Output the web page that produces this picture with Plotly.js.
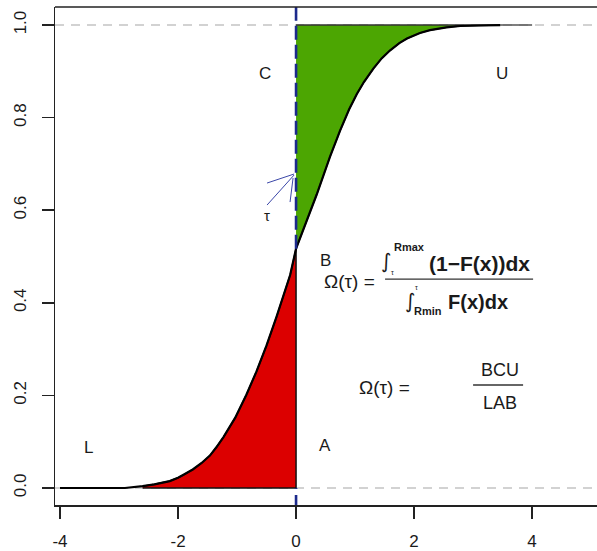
<!DOCTYPE html>
<html>
<head>
<meta charset="utf-8">
<script src="https://cdn.plot.ly/plotly-3.0.1.min.js"></script>
<style>html,body{margin:0;padding:0;background:#fff;}#chart{width:597px;height:551px;}</style>
</head>
<body>
<div id="chart"></div>
<script>
// ---- data ----
// empirical cumulative distribution curve F(x)
var cdfX = [-4.0, -2.9, -2.6, -2.4, -2.14, -2.0, -1.9, -1.75, -1.6, -1.46, -1.35, -1.23, -1.03, -0.84, -0.67, -0.5, -0.33, -0.2, -0.1, 0.0,
            0.2, 0.35, 0.576, 0.746, 0.9, 1.03, 1.15, 1.31, 1.45, 1.59, 1.75, 1.88, 2.1, 2.27, 2.55, 2.78, 3.1, 3.46];
var cdfY = [0.0, 0.0, 0.004, 0.008, 0.015, 0.022, 0.029, 0.04, 0.054, 0.07, 0.088, 0.11, 0.152, 0.202, 0.252, 0.308, 0.37, 0.42, 0.46, 0.517,
            0.584, 0.634, 0.716, 0.772, 0.818, 0.851, 0.877, 0.906, 0.928, 0.945, 0.961, 0.971, 0.983, 0.989, 0.995, 0.998, 0.999, 1.0];
var tailX = [3.46, 4.0];        // grey continuation of the curve at F = 1
var tailY = [1.0, 1.0];
var tau = 0;                    // threshold
var xTicks = [-4, -2, 0, 2, 4];
var xTickText = ['-4', '-2', '0', '2', '4'];
var yTicks = [0, 0.2, 0.4, 0.6, 0.8, 1.0];
var yTickText = ['0.0', '0.2', '0.4', '0.6', '0.8', '1.0'];
var xRange = [-4.085, 5.1];
var yRange = [-0.0367, 1.039];

// ---- build regions from the data ----
var lowX = [], lowY = [], upX = [], upY = [];
for (var i = 0; i < cdfX.length; i++) {
  if (cdfX[i] >= -2.6 && cdfX[i] <= tau) { lowX.push(cdfX[i]); lowY.push(cdfY[i]); }
  if (cdfX[i] >= tau) { upX.push(cdfX[i]); upY.push(cdfY[i]); }
}
var Ftau = lowY[lowY.length - 1];
var redX = lowX.concat([tau, lowX[0]]);
var redY = lowY.concat([0, 0]);
var greenX = upX.concat([tau]);
var greenY = upY.concat([1]);

// pixel -> data helpers (for label placement only)
function PX(px) { return (px - 296) / 59; }
function PY(py) { return (488 - py) / 463; }

var FONT = 'Liberation Sans, Arial, sans-serif';
var TXT = '#1a1a1a';

var traces = [
  {x: xRange, y: [1, 1], mode: 'lines', line: {color: '#c4c4c4', width: 1.5, dash: '9px,7px'}, hoverinfo: 'skip'},
  {x: xRange, y: [0, 0], mode: 'lines', line: {color: '#c4c4c4', width: 1.5, dash: '9px,7px'}, hoverinfo: 'skip'},
  {x: redX, y: redY, mode: 'lines', fill: 'toself', fillcolor: '#dc0000', line: {color: '#111', width: 1.5}, hoverinfo: 'skip'},
  {x: greenX, y: greenY, mode: 'lines', fill: 'toself', fillcolor: '#4ca602', line: {color: '#333', width: 1.5}, hoverinfo: 'skip'},
  {x: tailX, y: tailY, mode: 'lines', line: {color: '#555', width: 1.5}, hoverinfo: 'skip'},
  {x: cdfX, y: cdfY, mode: 'lines', line: {color: '#000', width: 2.2}, hoverinfo: 'skip'},
  {x: [tau, tau], y: [Ftau, yRange[1]], mode: 'lines', line: {color: '#1c2a8c', width: 2.6, dash: '14px,5px'}, hoverinfo: 'skip'},
  {x: [tau, tau], y: [yRange[0], 0], mode: 'lines', line: {color: '#1c2a8c', width: 2.6, dash: '10px,6px'}, hoverinfo: 'skip'}
];

function ann(text, px, py, size, xanchor, extra) {
  var a = {text: text, x: PX(px), y: PY(py), xref: 'x', yref: 'y', showarrow: false,
           xanchor: xanchor || 'center', yanchor: 'middle',
           font: {family: FONT, size: size, color: TXT}};
  if (extra) for (var k in extra) a[k] = extra[k];
  return a;
}
var INT = {family: 'DejaVu Sans, sans-serif', size: 20, color: TXT};

var annotations = [
  ann('C', 265, 73, 17), ann('U', 502, 73, 17), ann('L', 88, 447, 17),
  ann('A', 325, 445, 17), ann('B', 325, 260, 17),
  ann('τ', 267, 215, 15),
  // first formula
  ann('Ω(τ) =', 322, 281, 19, 'left'),
  ann('∫', 386, 261, 20, 'center', {font: INT}),
  ann('<b>Rmax</b>', 409, 247, 11),
  ann('τ', 392, 272, 7),
  ann('<b>(1−F(x))dx</b>', 427, 263, 21, 'left'),
  ann('∫', 410, 301, 20, 'center', {font: INT}),
  ann('τ', 416, 287, 7),
  ann('<b>Rmin</b>', 428, 311, 11),
  ann('<b>F(x)dx</b>', 446, 302, 20, 'left'),
  // second formula
  ann('Ω(τ) =', 357, 387, 19, 'left'),
  ann('BCU', 500, 370, 18), ann('LAB', 500, 403, 18)
];

function seg(px0, py0, px1, py1, color, w) {
  return {type: 'line', xref: 'x', yref: 'y', x0: PX(px0), y0: PY(py0), x1: PX(px1), y1: PY(py1),
          line: {color: color, width: w}};
}
var shapes = [
  // top border of the box
  {type: 'line', xref: 'paper', yref: 'paper', x0: 0, x1: 1, y0: 1, y1: 1, line: {color: '#222', width: 1.5}},
  // fraction bars
  seg(385, 279, 533, 279, '#333', 1.3),
  seg(473, 385, 523, 385, '#333', 1.3),
  // hand-drawn arrow at tau
  seg(267, 183, 294, 174, '#3a46a8', 1),
  seg(267, 205, 294, 175, '#3a46a8', 1),
  seg(290, 202, 293, 178, '#3a46a8', 1)
];

var layout = {
  width: 597, height: 551,
  margin: {l: 55, r: 0, t: 7, b: 46},
  paper_bgcolor: '#fff', plot_bgcolor: '#fff',
  showlegend: false,
  xaxis: {range: xRange, tickvals: xTicks, ticktext: xTickText, ticks: 'outside', ticklen: 12, tickwidth: 1.5, tickcolor: '#222',
          showline: true, linecolor: '#222', linewidth: 1.5, showgrid: false, zeroline: false,
          tickfont: {family: FONT, size: 17, color: TXT}, ticklabelstandoff: 8},
  yaxis: {range: yRange, tickvals: yTicks, ticktext: yTickText, ticks: 'outside', ticklen: 12, tickwidth: 1.5, tickcolor: '#222',
          showline: true, linecolor: '#222', linewidth: 1.5, showgrid: false, zeroline: false, tickangle: -90,
          tickfont: {family: FONT, size: 17, color: TXT}, ticklabelstandoff: 9},
  annotations: annotations,
  shapes: shapes
};

Plotly.newPlot('chart', traces, layout, {staticPlot: true, displayModeBar: false});
</script>
</body>
</html>
